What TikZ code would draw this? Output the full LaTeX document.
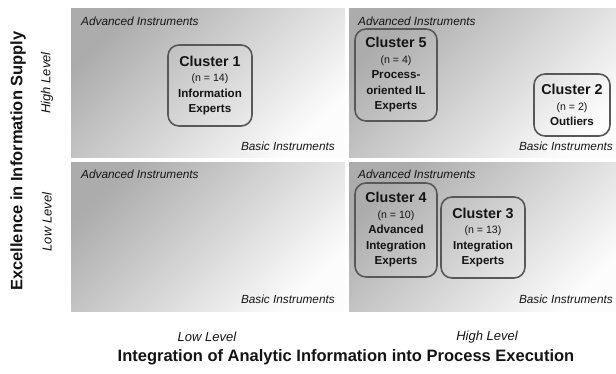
\documentclass[tikz,border=0pt]{standalone}
\usepackage{fontspec}
\setmainfont{Liberation Sans}
\definecolor{pdark}{RGB}{172,172,172}
\definecolor{plight}{RGB}{252,252,252}
\definecolor{bord}{RGB}{88,88,88}
\definecolor{txt}{RGB}{20,20,20}
\begin{document}
\begin{tikzpicture}[x=1pt,y=-1pt,
  panel/.style={shading=axis, top color=pdark, bottom color=plight, shading angle=45},
  instr/.style={font=\fontsize{11.8}{13}\selectfont\itshape, text=txt, inner sep=0pt},
  lvl/.style={font=\fontsize{13}{15}\selectfont\itshape, text=txt, inner sep=0pt},
  axtitle/.style={font=\fontsize{16.5}{18}\selectfont\bfseries, text=txt, inner sep=0pt},
  cluster/.style={draw=bord, line width=1.6pt, rounded corners=11pt, align=center,
    inner sep=0pt, text=txt, font=\fontsize{11.6}{15.5}\selectfont\bfseries},
]
\clip (0,0) rectangle (616,373);
\fill[white] (0,0) rectangle (616,373);
% panels
\path[panel] (71,8) rectangle (345,157);
\path[panel] (349,8) rectangle (623,157);
\path[panel] (71,162) rectangle (345,311);
\path[panel] (349,162) rectangle (623,311);
% instrument labels
\node[instr, anchor=west] (adv1) at (81,21) {Advanced Instruments};
\node[instr, anchor=east] (bas1) at (335,146) {Basic Instruments};
\node[instr, anchor=west] (adv2) at (358,21) {Advanced Instruments};
\node[instr, anchor=east] (bas2) at (613,146) {Basic Instruments};
\node[instr, anchor=west] (adv3) at (81,174) {Advanced Instruments};
\node[instr, anchor=east] (bas3) at (335,299) {Basic Instruments};
\node[instr, anchor=west] (adv4) at (358,174) {Advanced Instruments};
\node[instr, anchor=east] (bas4) at (613,299) {Basic Instruments};
% axis labels
\node[axtitle, rotate=90] (ytitle) at (18,161) {Excellence in Information Supply};
\node[lvl, rotate=90] (yhigh) at (47,83) {High Level};
\node[lvl, rotate=90] (ylow) at (47,222) {Low Level};
\node[lvl] (xlow) at (207,337) {Low Level};
\node[lvl] (xhigh) at (487,337) {High Level};
\node[axtitle] (xtitle) at (346,357) {Integration of Analytic Information into Process Execution};
% clusters
\newcommand{\ctit}[1]{{\fontsize{14.3}{15.5}\selectfont #1}}
\newcommand{\cnum}[1]{{\mdseries\fontsize{10.6}{15.5}\selectfont #1}}
\node[cluster, minimum width=84pt, minimum height=81pt] (c1) at (210,85.5)
  {\ctit{Cluster 1}\\\cnum{(n = 14)}\\Information\\Experts};
\node[cluster, minimum width=82pt, minimum height=92pt] (c5) at (396,75)
  {\ctit{Cluster 5}\\\cnum{(n = 4)}\\Process-\\oriented IL\\Experts};
\node[cluster, minimum width=76pt, minimum height=62pt] (c2) at (572,105)
  {\ctit{Cluster 2}\\\cnum{(n = 2)}\\Outliers};
\node[cluster, minimum width=82pt, minimum height=94pt] (c4) at (396,230)
  {\ctit{Cluster 4}\\\cnum{(n = 10)}\\Advanced\\Integration\\Experts};
\node[cluster, minimum width=84pt, minimum height=81pt] (c3) at (483,237.5)
  {\ctit{Cluster 3}\\\cnum{(n = 13)}\\Integration\\Experts};
\end{tikzpicture}
\end{document}
